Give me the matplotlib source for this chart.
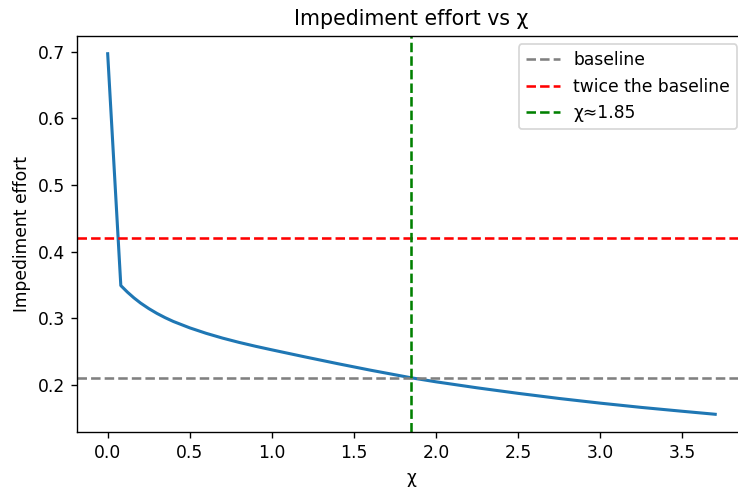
import matplotlib
matplotlib.use("Agg")
import matplotlib.pyplot as plt

chi = [0.0, 0.08, 0.12, 0.16, 0.2, 0.25, 0.3, 0.35, 0.4, 0.5, 0.6, 0.7, 0.8, 0.9,
       1.0, 1.2, 1.4, 1.6, 1.85, 2.0, 2.25, 2.5, 2.75, 3.0, 3.25, 3.5, 3.7]
effort = [0.697, 0.349, 0.3392, 0.3305, 0.3228, 0.3145, 0.3072, 0.3008, 0.2951,
          0.2855, 0.2773, 0.2701, 0.2637, 0.2579, 0.2525, 0.2420, 0.2318, 0.2220,
          0.2105, 0.2045, 0.1955, 0.1872, 0.1795, 0.1725, 0.1661, 0.1603, 0.1558]
baseline = 0.21
twice = 0.42
chi_star = 1.85

fig = plt.figure(figsize=(6.0, 489 / 123), dpi=123)
ax = fig.add_axes([77.3 / 738, 56.7 / 489, 668.3 / 738, 396.6 / 489])
ax.plot(chi, effort, color="#1f77b4", lw=1.8)
ax.axhline(baseline, color="gray", ls="--", label="baseline")
ax.axhline(twice, color="red", ls="--", label="twice the baseline")
ax.axvline(chi_star, color="green", ls="--", label="χ≈1.85")
ax.set_title("Impediment effort vs χ")
ax.set_xlabel("χ")
ax.set_ylabel("Impediment effort")
ax.legend(loc="upper right")
fig.savefig("out.png", dpi=123)
